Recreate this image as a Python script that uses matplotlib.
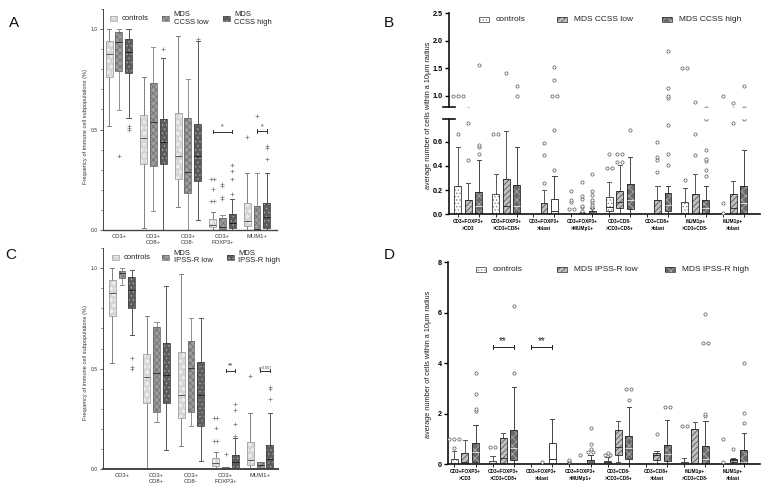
import matplotlib.pyplot as plt
import numpy as np
from matplotlib.patches import PathPatch, Rectangle
from matplotlib.ticker import FormatStrFormatter, MultipleLocator, FixedLocator

# each box: (whisker low, q1, median, q3, whisker high); outliers listed separately

# A / C: frequency of immune cell subpopulations
freq_groups = ["CD3+", "CD3+\nCD8+", "CD3+\nCD8-", "CD3+\nFOXP3+", "MUM1+"]

a_ctrl = [(0.52, 0.76, 0.876, 0.94, 1.0), (0.01, 0.328, 0.459, 0.572, 0.76),
          (0.113, 0.254, 0.368, 0.58, 0.967), (0.0, 0.013, 0.025, 0.056, 0.09),
          (0.0, 0.021, 0.046, 0.134, 0.283)]
a_ctrl_out = [[], [], [], [0.254, 0.254, 0.204, 0.144, 0.144], [0.464]]
a_low = [(0.597, 0.79, 0.937, 0.985, 1.0), (0.095, 0.32, 0.539, 0.73, 0.909),
         (0.0, 0.186, 0.288, 0.557, 0.75), (0.0, 0.005, 0.015, 0.06, 0.075),
         (0.0, 0.0, 0.005, 0.121, 0.283)]
a_low_out = [[0.37], [], [], [0.23, 0.22, 0.166, 0.155], [0.567]]
a_high = [(0.557, 0.78, 0.887, 0.95, 1.0), (0.0, 0.327, 0.44, 0.552, 0.855),
          (0.05, 0.245, 0.368, 0.527, 0.94), (0.0, 0.012, 0.036, 0.08, 0.154),
          (0.0, 0.012, 0.066, 0.134, 0.283)]
a_high_out = [[0.52, 0.51, 0.50], [0.90], [0.95], [0.323, 0.294, 0.254, 0.178], [0.418, 0.408, 0.353]]

c_ctrl = [(0.527, 0.763, 0.876, 0.942, 1.0), (0.0, 0.328, 0.458, 0.574, 0.763),
          (0.116, 0.257, 0.37, 0.582, 0.97), (0.0, 0.018, 0.03, 0.055, 0.088),
          (0.0, 0.021, 0.046, 0.134, 0.278)]
c_ctrl_out = [[], [], [], [0.254, 0.254, 0.204, 0.141, 0.141], [0.464]]
c_low = [(0.917, 0.95, 0.975, 0.988, 1.0), (0.237, 0.283, 0.48, 0.706, 0.731),
         (0.217, 0.287, 0.502, 0.638, 0.751), (0.0, 0.002, 0.005, 0.01, 0.012),
         (0.0, 0.0, 0.02, 0.035, 0.037)]
c_low_out = [[], [], [], [0.075], []]
c_high = [(0.668, 0.80, 0.892, 0.955, 0.99), (0.096, 0.332, 0.47, 0.627, 0.912),
          (0.043, 0.217, 0.37, 0.534, 0.751), (0.0, 0.012, 0.036, 0.071, 0.157),
          (0.0, 0.005, 0.05, 0.121, 0.278)]
c_high_out = [[0.555, 0.51, 0.50], [], [], [0.326, 0.295, 0.225, 0.167], [0.408, 0.40, 0.35]]

# B / D: average number of cells within a 10um radius
dist_groups = ["CD3+FOXP3+\n>CD3", "CD3+FOXP3+\n>CD3+CD8+", "CD3+FOXP3+\n>blast",
               "CD3+FOXP3+\n>MUMp1+", "CD3+CD8-\n>CD3+CD8+", "CD3+CD8+\n>blast",
               "MUM1p+\n>CD3+CD8-", "MUM1p+\n>blast"]

b_ctrl = [(0, 0, 0, 0.235, 0.555), (0, 0, 0, 0.167, 0.333), (0, 0, 0, 0, 0), (0, 0, 0, 0, 0),
          (0, 0.025, 0.06, 0.14, 0.27), (0, 0, 0, 0, 0), (0, 0, 0, 0.10, 0.22), (0, 0, 0, 0, 0)]
b_ctrl_out = [[0.667, 1.0, 1.0, 1.0], [0.667, 0.667], [], [0.19, 0.12, 0.10, 0.04, 0.04],
              [0.385, 0.385, 0.5], [], [0.285, 1.5, 1.5], [0.01, 0.09, 1.0]]
b_low = [(0, 0, 0, 0.118, 0.26), (0, 0, 0.07, 0.29, 0.69), (0, 0, 0, 0.095, 0.205), (0, 0, 0, 0.01, 0.02),
         (0, 0.055, 0.10, 0.195, 0.405), (0, 0, 0, 0.12, 0.23), (0, 0, 0, 0.165, 0.335), (0, 0, 0.05, 0.165, 0.275)]
b_low_out = [[0.45, 0.755], [1.42], [0.255, 0.49, 0.59], [0.27, 0.15, 0.13, 0.07, 0.06, 0.03],
             [0.43, 0.43, 0.5, 0.5], [0.35, 0.45, 0.47, 0.6], [0.49, 0.665, 0.885], [0.757, 0.87]]
b_high = [(0, 0, 0.07, 0.182, 0.445), (0, 0, 0.07, 0.245, 0.56), (0, 0, 0.03, 0.13, 0.315), (0, 0, 0.01, 0.03, 0.05),
          (0, 0.04, 0.12, 0.25, 0.47), (0, 0.025, 0.08, 0.175, 0.235), (0, 0, 0.05, 0.12, 0.23), (0, 0, 0.09, 0.23, 0.53)]
b_high_out = [[0.5, 0.556, 0.57, 1.56], [1.0, 1.18], [0.365, 0.70, 1.0, 1.0, 1.29, 1.52],
              [0.33, 0.19, 0.16, 0.12, 0.10, 0.08, 0.06, 0.05], [0.7],
              [0.41, 0.5, 0.74, 0.96, 0.99, 1.14, 1.81], [0.32, 0.37, 0.44, 0.46, 0.53, 0.785], [0.785, 1.18]]

d_ctrl = [(0, 0, 0, 0.2, 0.54), (0, 0, 0, 0.15, 0.33), (0, 0, 0, 0, 0), (0, 0, 0, 0.03, 0.05),
          (0, 0.02, 0.08, 0.15, 0.28), (0, 0, 0, 0, 0), (0, 0, 0, 0.1, 0.26), (0, 0, 0, 0, 0)]
d_ctrl_out = [[0.63, 1.0, 1.0, 1.0], [0.67, 0.67], [], [0.08, 0.12, 0.17], [0.37, 0.37, 0.45], [],
              [1.5, 1.5], [0.1, 1.0]]
d_low = [(0, 0, 0.1, 0.46, 0.95), (0, 0, 0.24, 1.03, 1.23), (0, 0, 0, 0, 0.05), (0, 0, 0, 0, 0),
         (0.1, 0.37, 0.7, 1.35, 1.73), (0, 0.17, 0.35, 0.46, 0.53), (0, 0, 0, 1.39, 1.66), (0, 0.1, 0.18, 0.21, 0.26)]
d_low_out = [[], [], [0.1], [0.37], [], [1.2], [], [0.6]]
d_high = [(0, 0.08, 0.5, 0.83, 1.57), (0, 0.17, 0.63, 1.36, 3.05), (0, 0, 0.21, 0.86, 1.78), (0, 0, 0.05, 0.16, 0.35),
          (0, 0.21, 0.66, 1.13, 2.26), (0, 0.13, 0.4, 0.77, 1.74), (0, 0, 0.2, 0.74, 1.72), (0, 0, 0.1, 0.57, 1.25)]
d_high_out = [[2.1, 2.2, 2.8, 3.6], [3.6, 6.25], [], [0.5, 0.5, 0.6, 0.8, 1.45], [2.55, 3.0, 3.0],
              [2.25, 2.25], [1.9, 2.0, 4.8, 4.8, 5.95], [1.65, 2.05, 4.0]]

# significance bars: (group, from series, to series, y, text)
a_sig = [(3, 0, 2, 0.49, "*"), (4, 1, 2, 0.493, "*")]
c_sig = [(3, 1, 2, 0.49, "**"), (4, 1, 2, 0.49, "p=0.057")]
d_sig = [(1, 0, 2, 4.65, "**"), (2, 0, 2, 4.65, "**")]

plt.rcParams['font.family'] = ['Liberation Sans', 'DejaVu Sans']
plt.rcParams['hatch.linewidth'] = 0.5

W, H = 778, 492
fig = plt.figure(figsize=(W / 100, H / 100), dpi=100)


def px_axes(left, top, right, bottom):
    return fig.add_axes([left / W, 1 - bottom / H, (right - left) / W, (bottom - top) / H])


freq_styles = [
    dict(face='#d6d6d6', hatch='ooo', hatchc='#f2f2f2', edge='#a0a0a0', whisk='#808080', med='#555555'),
    dict(face='#9c9c9c', hatch='xxxxx', hatchc='#6c6c6c', edge='#6a6a6a', whisk='#909090', med='#333333'),
    dict(face='#5c5c5c', hatch='....', hatchc='#a8a8a8', edge='#444444', whisk='#555555', med='#222222'),
]
dist_styles = [
    dict(face='white', hatch='.....', hatchc='#777777', edge='#333333', whisk='#555555', med='#333333'),
    dict(face='#c0c0c0', hatch='//////', hatchc='#444444', edge='#222222', whisk='#555555', med='#333333'),
    dict(face='#6a6a6a', hatch='xxxx', hatchc='#b5b5b5', edge='#222222', whisk='#444444', med='#dddddd'),
]


def draw_boxes(ax, rows, outs, pos, width, st, fl_kw, fl_dx):
    stats = [dict(whislo=r[0], q1=r[1], med=r[2], q3=r[3], whishi=r[4], fliers=[]) for r in rows]
    art = ax.bxp(stats, positions=pos, widths=width, patch_artist=True, showfliers=False,
                 manage_ticks=False, capwidths=width * 0.6,
                 boxprops=dict(facecolor=st['face'], edgecolor=st['hatchc'], hatch=st['hatch'], linewidth=0),
                 whiskerprops=dict(color=st['whisk'], linewidth=0.7),
                 capprops=dict(color=st['whisk'], linewidth=0.7),
                 medianprops=dict(color=st['med'], linewidth=0.7))
    for b in art['boxes']:
        ax.add_patch(PathPatch(b.get_path(), fill=False, edgecolor=st['edge'], linewidth=0.6, zorder=2.05))
    for x, vals in zip(pos, outs):
        for v in sorted(set(vals)):
            n = vals.count(v)
            for k in range(n):
                ax.plot(x + (k - (n - 1) / 2) * fl_dx, v, zorder=3, **fl_kw)
    return art


def sig_bar(ax, x0, x1, y, text, tick, fs, color='#333333'):
    ax.plot([x0, x1], [y, y], color=color, lw=0.7)
    ax.plot([x0, x0], [y - tick, y + tick], color=color, lw=0.7)
    ax.plot([x1, x1], [y - tick, y + tick], color=color, lw=0.7)
    ax.text((x0 + x1) / 2, y + tick * 0.6, text, ha='center', va='bottom', fontsize=fs, color=color)


def legend_row(xs, texts, y, styles, pw, ph, gap, fs):
    for x, t, st in zip(xs, texts, styles):
        r = Rectangle((x / W, 1 - (y + ph / 2) / H), pw / W, ph / H, transform=fig.transFigure,
                      facecolor=st['face'], hatch=st['hatch'], edgecolor=st['hatchc'], lw=0)
        o = Rectangle((x / W, 1 - (y + ph / 2) / H), pw / W, ph / H, transform=fig.transFigure,
                      fill=False, edgecolor=st['edge'], lw=0.5)
        fig.patches.extend([r, o])
        fig.text((x + pw + gap) / W, 1 - y / H, t, va='center', ha='left', fontsize=fs,
                 color='#222222', linespacing=1.0)


# ---------- A and C ----------
freq_offs = [-0.28, 0.0, 0.28]
fl_plus = dict(marker='+', ms=2.6, mew=0.5, color='#777777', ls='none')


def freq_panel(ax, series, outs, sigs, xlim):
    centers = np.arange(len(freq_groups))
    for s in range(3):
        draw_boxes(ax, series[s], outs[s], centers + freq_offs[s], 0.2, freq_styles[s], fl_plus, 0.09)
    for g, s0, s1, y, t in sigs:
        fs = 2.6 if t.startswith('p') else 5
        sig_bar(ax, g + freq_offs[s0], g + freq_offs[s1], y, t, 0.008, fs)
    ax.set_xlim(*xlim)
    ax.set_ylim(0, 1.1)
    ax.set_xticks(centers, freq_groups)
    ax.set_yticks([0, 0.5, 1.0])
    ax.yaxis.set_major_formatter(FormatStrFormatter('%.1f'))
    ax.yaxis.set_minor_locator(MultipleLocator(0.1))
    ax.tick_params(axis='x', length=0, pad=3, labelsize=4.2, labelcolor='#333333')
    ax.tick_params(axis='y', which='major', length=2.5, width=0.6, pad=1.5, labelsize=3.6,
                   color='#444444', labelcolor='#333333')
    ax.tick_params(axis='y', which='minor', length=1.8, width=0.5, color='#444444')
    for sp in ['top', 'right']:
        ax.spines[sp].set_visible(False)
    ax.spines['left'].set_color('#444444')
    ax.spines['left'].set_linewidth(0.7)
    ax.spines['bottom'].set_color('#444444')
    ax.spines['bottom'].set_linewidth(1.0)


ax_a = px_axes(103, 9, 277, 230)
freq_panel(ax_a, [a_ctrl, a_low, a_high], [a_ctrl_out, a_low_out, a_high_out], a_sig, (-0.46, 4.58))
ax_c = px_axes(103, 248, 278, 469.3)
freq_panel(ax_c, [c_ctrl, c_low, c_high], [c_ctrl_out, c_low_out, c_high_out], c_sig, (-0.55, 4.52))
ax_c.spines['bottom'].set_linewidth(1.4)

legend_row([110, 162, 223], ["controls", "MDS\nCCSS low", "MDS\nCCSS high"], 18.5,
           freq_styles, 7, 4.5, 4.5, 5.5)
legend_row([112, 162, 227], ["controls", "MDS\nIPSS-R low", "MDS\nIPSS-R high"], 257.5,
           freq_styles, 7, 4.5, 4.5, 5.5)

ylab_freq = "Frequency of immune cell subpopulations (%)"
fig.text(85 / W, 1 - 127 / H, ylab_freq, rotation=90, ha='center', va='center', fontsize=4.1, color='#333333')
fig.text(85 / W, 1 - 363 / H, ylab_freq, rotation=90, ha='center', va='center', fontsize=4.1, color='#333333')

# ---------- B and D ----------
dist_offs = [-0.278, 0.0, 0.278]
fl_circ = dict(marker='o', ms=2.3, mew=0.5, mfc='white', mec='#555555', ls='none')


def dist_boxes(ax, series, outs):
    centers = np.arange(len(dist_groups))
    for s in range(3):
        art = draw_boxes(ax, series[s], outs[s], centers + dist_offs[s], 0.18, dist_styles[s], fl_circ, 0.13)
        if s == 2:
            # the CD3+FOXP3+ > blast box of the high group is drawn unfilled in the source
            art['boxes'][2].set_facecolor('white')
            art['boxes'][2].set_hatch(None)
            art['medians'][2].set_color('#333333')


def dist_style(ax, xlim):
    ax.set_xlim(*xlim)
    for sp in ['top', 'right']:
        ax.spines[sp].set_visible(False)
    for sp in ['left', 'bottom']:
        ax.spines[sp].set_linewidth(1.2)
        ax.spines[sp].set_color('#111111')
    ax.tick_params(axis='y', length=3, width=1.0, pad=1.5, labelsize=5.2)
    for t in ax.get_yticklabels():
        t.set_fontweight('bold')


def dist_xaxis(ax):
    centers = np.arange(len(dist_groups))
    ax.set_xticks(centers, dist_groups)
    ax.xaxis.set_minor_locator(FixedLocator(np.concatenate([centers + o for o in dist_offs])))
    ax.tick_params(axis='x', which='major', length=0, pad=3.5, labelsize=3.4)
    ax.tick_params(axis='x', which='minor', length=2, width=0.6)
    for t in ax.get_xticklabels():
        t.set_fontweight('bold')
        t.set_linespacing(1.5)


b_series = [b_ctrl, b_low, b_high]
b_outs = [b_ctrl_out, b_low_out, b_high_out]

ax_b_lo = px_axes(449, 119, 760, 214.3)
dist_boxes(ax_b_lo, b_series, b_outs)
ax_b_lo.set_ylim(0, 0.788)
ax_b_lo.set_yticks([0, 0.2, 0.4, 0.6])
ax_b_lo.yaxis.set_major_formatter(FormatStrFormatter('%.1f'))
dist_style(ax_b_lo, (-0.51, 7.71))
dist_xaxis(ax_b_lo)
ax_b_lo.plot([-0.018, 0.018], [1, 1], transform=ax_b_lo.transAxes, color='#111111', lw=1.2, clip_on=False)

ax_b_hi = px_axes(449, 13, 760, 107)
dist_boxes(ax_b_hi, b_series, b_outs)
ax_b_hi.set_ylim(0.8, 2.5)
ax_b_hi.set_yticks([1.0, 1.5, 2.0, 2.5])
ax_b_hi.yaxis.set_major_formatter(FormatStrFormatter('%.1f'))
dist_style(ax_b_hi, (-0.51, 7.71))
ax_b_hi.spines['bottom'].set_visible(False)
ax_b_hi.set_xticks([])
ax_b_hi.plot([-0.018, 0.018], [0, 0], transform=ax_b_hi.transAxes, color='#111111', lw=1.2, clip_on=False)

ax_d = px_axes(448, 262.3, 760, 464.3)
dist_boxes(ax_d, [d_ctrl, d_low, d_high], [d_ctrl_out, d_low_out, d_high_out])
for g, s0, s1, y, t in d_sig:
    sig_bar(ax_d, g + dist_offs[s0], g + dist_offs[s1], y, t, 0.08, 7, color='#222222')
ax_d.set_ylim(0, 8)
ax_d.set_yticks([0, 2, 4, 6, 8])
dist_style(ax_d, (-0.44, 7.70))
dist_xaxis(ax_d)

legend_row([479, 557, 662], ["controls", "MDS CCSS low", "MDS CCSS high"], 19.5,
           dist_styles, 10, 4.5, 7, 6)
legend_row([476, 557, 665], ["controls", "MDS IPSS-R low", "MDS IPSS-R high"], 269.3,
           dist_styles, 10, 4.5, 7, 6)

ylab_dist = "average number of cells within a 10µm radius"
fig.text(429 / W, 1 - 115 / H, ylab_dist, rotation=90, ha='center', va='center', fontsize=5.3, color='#222222')
fig.text(429 / W, 1 - 364 / H, ylab_dist, rotation=90, ha='center', va='center', fontsize=5.3, color='#222222')

# panel letters
for letter, x, y in [("A", 14, 23), ("B", 389, 23), ("C", 11, 255), ("D", 389, 255)]:
    fig.text(x / W, 1 - y / H, letter, ha='center', va='center', fontsize=11, color='#111111')

fig.savefig("out.png", dpi=100)
